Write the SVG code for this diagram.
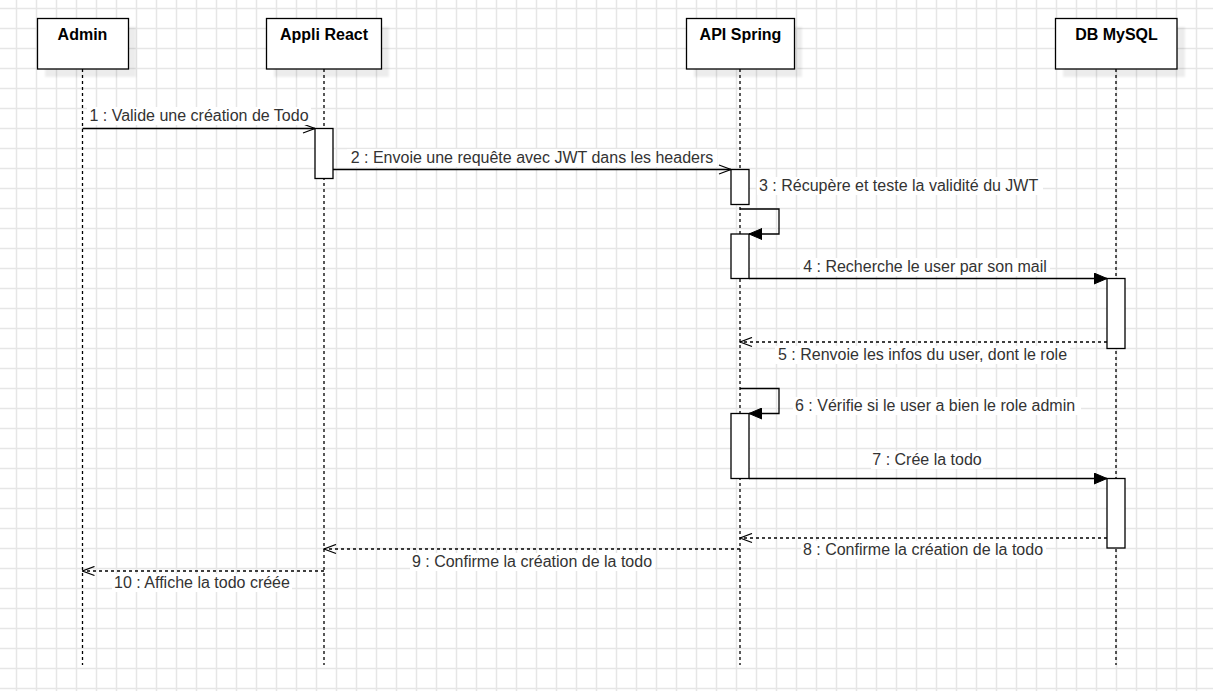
<svg xmlns="http://www.w3.org/2000/svg" width="1213" height="691" viewBox="0 0 1213 691">
<style>
.hdr{fill:#fff;stroke:#000;stroke-width:1.3}
.shd{fill:#000;opacity:0.07}
.htxt{font-family:"Liberation Sans",Arial,sans-serif;font-size:16px;font-weight:bold;fill:#000;text-anchor:middle}
.life{stroke:#000;stroke-width:1.3;stroke-dasharray:3 3;fill:none}
.act{fill:#fff;stroke:#000;stroke-width:1.3}
.msg{stroke:#000;stroke-width:1.3;fill:none}
.ret{stroke:#000;stroke-width:1.3;fill:none;stroke-dasharray:3 3}
.lbl{font-family:"Liberation Sans",Arial,sans-serif;font-size:16px;fill:#333}
.mid{text-anchor:middle}
.bg{fill:#fff}
</style>
<defs>
<pattern id="grid" patternUnits="userSpaceOnUse" width="20" height="20">
<path d="M16.5,0 V20 M0,8.5 H20" stroke="#e6e6e6" stroke-width="1.5" fill="none"/>
</pattern>
<filter id="blur" x="-10%" y="-10%" width="120%" height="120%"><feGaussianBlur stdDeviation="1.2"/></filter>
<marker id="open" markerUnits="userSpaceOnUse" markerWidth="14" markerHeight="11" viewBox="0 0 14 11" refX="13" refY="5.5" orient="auto">
<path d="M1,1 L13,5.5 L1,10" fill="none" stroke="#000" stroke-width="1.3"/>
</marker>
<marker id="fill" markerUnits="userSpaceOnUse" markerWidth="14" markerHeight="12" viewBox="0 0 14 12" refX="13" refY="6" orient="auto">
<path d="M0,0.5 L13,6 L0,11.5 Z" fill="#000" stroke="#000" stroke-width="1"/>
</marker>
</defs>
<rect width="1213" height="691" fill="#fff"/>
<rect width="1213" height="691" fill="url(#grid)"/>

<g id="lifelines">
<path class="life" d="M82.5,69 V665"/>
<path class="life" d="M324,69 V665"/>
<path class="life" d="M740,69 V665"/>
<path class="life" d="M1116,69 V665"/>
</g>

<g id="admin">
<rect class="shd" x="45" y="27" width="91" height="50" filter="url(#blur)"/>
<rect class="hdr" x="37.5" y="18.5" width="91" height="50.5"/>
<text class="htxt" x="82.5" y="40">Admin</text>
</g>
<g id="appli-react">
<rect class="shd" x="274" y="27" width="115" height="50" filter="url(#blur)"/>
<rect class="hdr" x="266.5" y="18.5" width="115" height="50.5"/>
<text class="htxt" x="324" y="40">Appli React</text>
</g>
<g id="api-spring">
<rect class="shd" x="694" y="27" width="108" height="50" filter="url(#blur)"/>
<rect class="hdr" x="686.5" y="18.5" width="108" height="50.5"/>
<text class="htxt" x="740.5" y="40">API Spring</text>
</g>
<g id="db-mysql">
<rect class="shd" x="1063" y="27" width="122" height="50" filter="url(#blur)"/>
<rect class="hdr" x="1055.5" y="18.5" width="121.5" height="50.5"/>
<text class="htxt" x="1116.5" y="40">DB MySQL</text>
</g>

<g id="activations">
<rect class="act" x="315" y="128.5" width="18" height="50"/>
<rect class="act" x="731" y="169.5" width="18" height="35"/>
<rect class="act" x="731" y="234" width="18" height="44.5"/>
<rect class="act" x="731" y="413.5" width="18" height="65"/>
<rect class="act" x="1107" y="278.5" width="18" height="70"/>
<rect class="act" x="1107" y="478.5" width="18" height="69.5"/>
</g>

<g id="connectors">
<path class="msg" d="M82.5,128.5 H315" marker-end="url(#open)"/>
<path class="msg" d="M333,169.5 H731" marker-end="url(#open)"/>
<path class="msg" d="M740,209 H779 V234 H749" marker-end="url(#fill)"/>
<path class="msg" d="M749,278.5 H1107" marker-end="url(#fill)"/>
<path class="ret" d="M1107,342 H740" marker-end="url(#open)"/>
<path class="msg" d="M740,388.5 H779 V413.5 H749" marker-end="url(#fill)"/>
<path class="msg" d="M749,478.5 H1107" marker-end="url(#fill)"/>
<path class="ret" d="M1107,538 H740" marker-end="url(#open)"/>
<path class="ret" d="M740,549 H324" marker-end="url(#open)"/>
<path class="ret" d="M324,571 H82.5" marker-end="url(#open)"/>
</g>

<g id="labels">
<rect class="bg" x="87" y="107" width="224" height="18"/>
<text class="lbl mid" x="199" y="121">1 : Valide une création de Todo</text>
<rect class="bg" x="347" y="149" width="370" height="18"/>
<text class="lbl mid" x="532" y="163">2 : Envoie une requête avec JWT dans les headers</text>
<rect class="bg" x="757" y="177" width="286" height="18"/>
<text class="lbl" x="759" y="191">3 : Récupère et teste la validité du JWT</text>
<rect class="bg" x="800" y="258" width="250" height="18"/>
<text class="lbl mid" x="925" y="272">4 : Recherche le user par son mail</text>
<rect class="bg" x="775" y="346" width="295" height="18"/>
<text class="lbl mid" x="922.5" y="360">5 : Renvoie les infos du user, dont le role</text>
<rect class="bg" x="793" y="397" width="288" height="18"/>
<text class="lbl" x="795" y="411">6 : Vérifie si le user a bien le role admin</text>
<rect class="bg" x="871" y="451" width="112" height="18"/>
<text class="lbl mid" x="927" y="465">7 : Crée la todo</text>
<rect class="bg" x="801" y="541" width="245" height="18"/>
<text class="lbl mid" x="923" y="555">8 : Confirme la création de la todo</text>
<rect class="bg" x="410" y="553" width="245" height="18"/>
<text class="lbl mid" x="532" y="567">9 : Confirme la création de la todo</text>
<rect class="bg" x="112" y="574" width="180" height="18"/>
<text class="lbl mid" x="202" y="588">10 : Affiche la todo créée</text>
</g>
</svg>
